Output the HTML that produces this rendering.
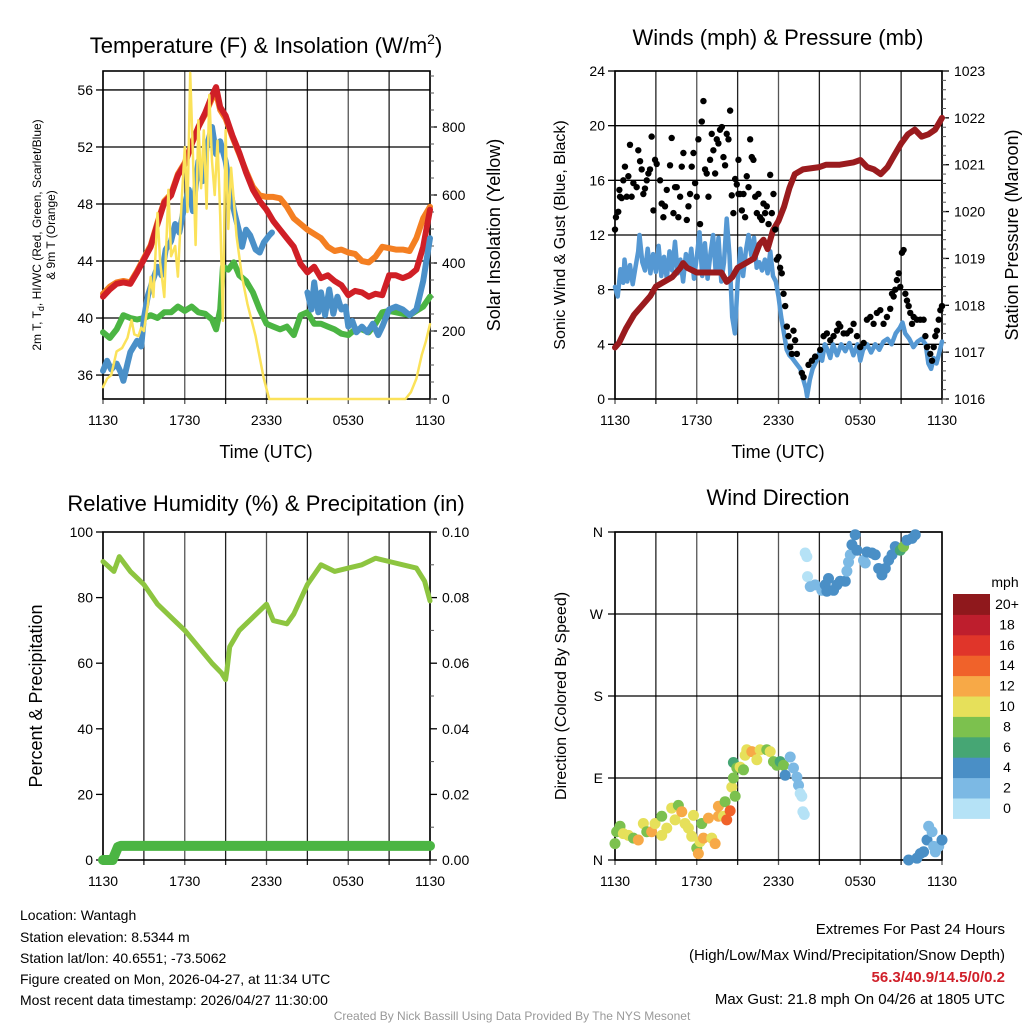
<!DOCTYPE html>
<html><head><meta charset="utf-8">
<style>
html,body{margin:0;padding:0;background:#fff;}
svg{display:block;font-family:"Liberation Sans",Arial,sans-serif;}
</style></head>
<body>
<svg id="fig" width="1024" height="1024" viewBox="0 0 1024 1024" xmlns="http://www.w3.org/2000/svg">
<rect width="1024" height="1024" fill="#fff"/>
<g id="texts" fill="#000">
<text x="266" y="53" font-size="22" text-anchor="middle">Temperature (F) &amp; Insolation (W/m<tspan dy="-9" font-size="14">2</tspan><tspan dy="9">)</tspan></text>
<text x="778" y="45" font-size="22" text-anchor="middle">Winds (mph) &amp; Pressure (mb)</text>
<text x="266" y="511" font-size="22" text-anchor="middle">Relative Humidity (%) &amp; Precipitation (in)</text>
<text x="778" y="505" font-size="22" text-anchor="middle">Wind Direction</text>
<g font-size="18" text-anchor="middle">
<text x="266" y="458">Time (UTC)</text>
<text x="778" y="458">Time (UTC)</text>
<text transform="translate(500,235) rotate(-90)">Solar Insolation (Yellow)</text>
<text transform="translate(1018,235) rotate(-90)">Station Pressure (Maroon)</text>
<text transform="translate(42,696) rotate(-90)">Percent &amp; Precipitation</text>
</g>
<text transform="translate(565,235) rotate(-90)" font-size="16" text-anchor="middle">Sonic Wind &amp; Gust (Blue, Black)</text>
<text transform="translate(566,696) rotate(-90)" font-size="16" text-anchor="middle">Direction (Colored By Speed)</text>
<g font-size="12" text-anchor="middle">
<text transform="translate(41,235) rotate(-90)">2m T, T<tspan font-size="9" dy="3">d</tspan><tspan dy="-3">, HI/WC (Red, Green, Scarlet/Blue)</tspan></text>
<text transform="translate(55,235) rotate(-90)">&amp; 9m T (Orange)</text>
</g>
<g font-size="14">
<text x="20" y="920">Location: Wantagh</text>
<text x="20" y="942">Station elevation: 8.5344 m</text>
<text x="20" y="963">Station lat/lon: 40.6551; -73.5062</text>
<text x="20" y="984">Figure created on Mon, 2026-04-27, at 11:34 UTC</text>
<text x="20" y="1005">Most recent data timestamp: 2026/04/27 11:30:00</text>
</g>
<g font-size="15" text-anchor="end">
<text x="1005" y="934">Extremes For Past 24 Hours</text>
<text x="1005" y="960">(High/Low/Max Wind/Precipitation/Snow Depth)</text>
<text x="1005" y="982" fill="#d0202a" font-weight="bold">56.3/40.9/14.5/0/0.2</text>
<text x="1005" y="1004">Max Gust: 21.8 mph On 04/26 at 1805 UTC</text>
</g>
<text x="512" y="1020" font-size="12" fill="#999" text-anchor="middle">Created By Nick Bassill Using Data Provided By The NYS Mesonet</text>
<text x="1005" y="587" font-size="14" text-anchor="middle">mph</text>
</g>
</svg>
<script>
// ---------- DATA ----------
const xTickLabels = ["1130","1730","2330","0530","1130"];
const tempTicks = [36,40,44,48,52,56];
const solarTicks = [0,200,400,600,800];
const windTicks = [0,4,8,12,16,20,24];
const pressTicks = [1016,1017,1018,1019,1020,1021,1022,1023];
const rhTicks = [0,20,40,60,80,100];
const precipTicks = [0,0.02,0.04,0.06,0.08,0.10];
const dirTickLabels = ["N","E","S","W","N"];
const dirTickValues = [0,90,180,270,360];

const redH = [0,.5,1,1.5,2,2.5,3,3.5,4,4.5,5,5.5,6,6.5,7,7.5,8,8.3,8.6,9,9.5,10,10.5,11,11.5,12,12.5,13,13.5,14,14.5,15,15.5,16,16.5,17,17.5,18,18.5,19,19.5,20,20.5,21,21.5,22,22.5,23,23.5,24];
const redT = [41.5,42.0,42.4,42.5,42.4,43.2,44.1,45.0,46.6,48.1,48.6,50.0,50.8,52.2,53.4,54.4,55.6,56.2,54.8,54.2,52.8,51.6,50.2,49.0,48.2,47.6,46.8,46.2,45.6,45.0,43.8,43.2,43.6,42.8,43.0,42.6,42.3,41.6,41.9,41.8,41.5,41.7,41.6,43.0,43.0,42.8,43.0,43.4,45.0,47.6];
const orangeH = [0,.5,1,1.5,2,2.5,3,3.5,4,4.5,5,5.5,6,6.5,7,7.5,8,8.3,8.6,9,9.5,10,10.5,11,11.5,12,12.5,13,13.5,14,14.5,15,15.5,16,16.5,17,17.5,18,18.5,19,19.5,20,20.5,21,21.5,22,22.5,23,23.5,24];
const orangeT = [41.7,42.2,42.5,42.6,42.5,43.3,44.2,45.1,46.7,48.2,48.7,50.1,50.9,52.2,53.4,54.3,55.4,55.8,54.6,54.0,52.7,51.5,50.3,49.2,48.6,48.5,48.5,48.4,47.8,47.0,46.6,46.2,45.9,45.6,45.0,44.7,44.8,44.6,44.5,44.0,43.9,44.3,45.0,44.9,44.8,44.8,44.7,45.6,47.0,47.8];
const blueH = [0,.3,.6,1,1.3,1.5,1.8,2,2.5,2.8,3,3.3,3.6,4,4.3,4.6,5,5.3,5.6,6,6.3,6.6,7,7.3,7.6,8,8.3,8.6,9,9.3,9.6,10,10.2,10.5,10.8,11.2,11.5,11.8,12.2,12.4,null,15,15.3,15.5,15.8,16,16.3,16.6,16.9,17.2,17.5,17.8,18,18.3,18.6,19,19.4,19.8,20.2,20.5,21,21.5,22,22.5,23,23.5,24];
const blueT = [36.3,37.0,36.4,36.8,36.2,35.6,36.8,37.6,38.4,38.0,40.0,41.6,42.5,43.6,43.0,44.8,45.4,46.6,46.0,48.0,49.0,47.5,51.0,49.6,52.0,53.4,51.5,52.4,51.0,49.2,47.6,46.0,45.0,46.2,45.8,44.8,44.6,45.3,45.8,46.0,null,41.8,40.6,42.5,40.4,41.8,40.2,42.0,40.3,41.5,40.6,40.8,39.4,39.8,39.0,39.4,39.0,39.6,38.8,39.4,40.6,40.8,40.6,40.2,40.6,42.6,45.6];
const greenH = [0,.5,1,1.5,2,2.5,3,3.5,4,4.5,5,5.5,6,6.5,7,7.5,8,8.3,8.6,8.8,9.2,9.6,10,10.5,11,11.5,12,12.5,13,13.5,14,14.5,15,15.5,16,16.5,17,17.5,18,18.5,19,19.5,20,20.5,21,21.5,22,22.5,23,23.5,24];
const greenT = [39.0,38.6,39.2,40.2,40.0,39.9,40.0,40.2,40.0,40.4,40.4,40.8,40.5,40.8,40.4,40.3,39.9,39.2,40.6,43.6,43.4,43.9,43.0,42.6,41.8,40.6,39.6,39.4,39.2,39.4,38.8,40.2,40.4,39.6,39.6,39.4,39.2,38.9,38.8,39.2,39.2,39.0,39.6,40.4,40.5,40.4,40.3,40.2,40.5,40.8,41.5];
const solarH = [0,.3,.6,1,1.4,1.8,2.1,2.3,2.6,2.8,3,3.3,3.5,3.7,4,4.2,4.5,4.8,5,5.3,5.5,5.8,6,6.2,6.4,6.6,6.8,7,7.2,7.4,7.6,7.8,8,8.2,8.4,8.6,8.8,9,9.2,9.4,9.6,9.8,10.2,10.6,11.2,11.8,12.2,22.2,22.6,23,23.4,23.7,24];
const solarW = [35,60,70,140,150,180,232,190,185,210,200,280,359,300,547,400,300,615,420,450,360,600,741,550,959,720,453,820,620,790,560,894,700,600,760,540,230,791,500,680,585,480,359,280,185,60,0,0,20,60,130,170,220];

const windH = [0,.2,.4,.6,.7,.9,1.1,1.3,1.5,1.7,1.8,2,2.2,2.4,2.6,2.8,3,3.2,3.4,3.6,3.8,4,4.2,4.4,4.6,4.8,5,5.2,5.4,5.6,5.8,6,6.2,6.4,6.6,6.8,7,7.2,7.4,7.6,7.8,8,8.2,8.4,8.6,8.8,9,9.2,9.4,9.6,9.8,10,10.2,10.4,10.6,10.8,11,11.2,11.4,11.6,11.8,12,12.2,12.4,12.6,12.8,13,13.3,13.6,13.8,14,14.1,14.3,14.5,14.8,15,15.2,15.4,15.6,15.8,16,16.3,16.6,16.9,17.2,17.5,17.8,18,18.2,18.5,18.8,19.1,19.4,19.7,20,20.3,20.6,20.9,21.1,21.3,21.6,21.9,22.2,22.5,22.8,23,23.2,23.4,23.6,23.8,24];
const windV = [8.2,7.5,9.5,8.5,10.2,8.6,9.8,8.4,9.6,10.8,12,10,9.4,11,9.2,10.6,9.3,11.2,9.0,10.4,8.8,10.8,9.4,11.5,9.2,10.2,8.6,10.6,9.6,11.0,8.8,10.4,12.2,9.0,11.4,8.8,10.6,12.0,9.2,11.8,8.6,10.0,13.2,10.5,6.0,4.8,8.5,11.0,9.0,10.8,12.0,10.5,11.8,9.6,10.0,9.4,10.2,9.2,10.8,9.0,8.6,7.5,6.0,4.8,3.6,3.2,3.0,2.6,2.2,1.5,0.8,0.2,1.4,2.2,2.8,3.4,2.8,4.0,3.6,3.0,4.0,3.2,4.0,3.5,4.1,3.2,4.0,2.8,3.6,4.0,3.4,4.0,3.6,4.2,4.4,4.0,4.8,5.2,5.6,4.8,4.4,3.8,4.2,4.4,4.0,2.6,2.2,3.0,2.6,3.4,4.2];
const pressH = [0,.3,.8,1.4,2,2.6,3,3.6,4.2,4.8,5,5.3,6,7,7.8,8.2,8.6,9,9.6,10.2,10.6,10.9,11.2,11.6,12,12.4,12.8,13.2,13.8,15,15.5,16.5,17.5,18,18.5,19,19.5,20,20.5,21,21.5,22,22.5,23,23.5,24];
const pressV = [1017.1,1017.2,1017.5,1017.8,1018.0,1018.2,1018.4,1018.5,1018.6,1018.8,1018.9,1018.8,1018.7,1018.7,1018.7,1018.5,1018.6,1018.8,1018.9,1019.0,1019.3,1019.4,1019.2,1019.6,1019.8,1020.1,1020.5,1020.8,1020.9,1020.95,1021.0,1021.0,1021.05,1021.1,1020.95,1020.9,1020.8,1020.95,1021.2,1021.45,1021.65,1021.75,1021.6,1021.65,1021.75,1022.0];
const gustH = [0,0.07,0.24,0.32,0.37,0.49,0.61,0.73,0.86,0.98,1.1,1.22,1.35,1.59,1.71,1.84,1.96,2.08,2.2,2.33,2.45,2.57,2.69,2.82,2.94,3.06,3.31,3.43,3.55,3.67,3.8,4.04,4.16,4.29,4.41,4.53,4.65,4.78,4.9,5.02,5.27,5.39,5.51,5.63,5.76,5.88,6,6.12,6.24,6.37,6.49,6.61,6.73,6.86,6.98,7.1,7.22,7.35,7.47,7.59,7.71,7.84,7.96,8.08,8.2,8.33,8.45,8.57,8.69,8.82,8.94,9.06,9.06,9.18,9.31,9.43,9.55,9.67,9.8,9.92,10.04,10.16,10.29,10.41,10.53,10.65,10.78,10.9,11.02,11.14,11.27,11.39,11.51,11.63,11.76,11.88,12,12.12,12.24,12.37,12.49,12.61,12.73,12.86,12.98,13.1,13.22,13.35,13.71,13.84,14.2,14.45,14.69,15.06,15.31,15.55,15.8,16.04,16.29,16.41,16.53,16.78,17.02,17.27,17.51,17.76,18,18.25,18.49,18.74,18.98,19.22,19.47,19.71,19.96,20.2,20.33,20.45,20.57,20.69,20.82,20.94,21.06,21.18,21.31,21.43,21.55,21.67,21.8,21.92,22.16,22.41,22.65,22.78,22.9,23.14,23.27,23.39,23.51,23.63,23.76,23.88,24];
const gustV = [12.4,13.3,13.7,15.3,14.8,14.7,16.0,17.0,14.8,16.3,18.6,14.8,15.8,15.5,18.2,17.4,16.8,15.0,15.4,16.0,16.5,16.8,19.2,13.8,17.5,17.2,16.0,14.3,13.3,14.1,15.3,17.1,19.1,13.6,15.5,15.5,13.3,14.8,17.0,18.0,13.1,14.1,15.0,17.0,18.0,15.8,14.8,19.0,12.8,20.3,21.8,16.8,16.5,14.8,17.5,19.4,18.2,16.5,19.0,18.7,19.7,19.9,17.7,17.1,19.4,19.0,21.1,14.9,13.6,16.1,15.7,17.5,15.0,15.0,13.8,15.0,13.3,16.3,15.5,19.0,17.7,17.5,14.8,13.6,15.0,13.3,13.1,14.3,13.6,14.1,12.8,16.4,13.6,15.0,12.4,10.2,10.4,9.6,9.2,7.7,6.8,5.3,4.6,3.8,3.3,5.0,4.3,3.3,1.9,1.6,2.5,2.8,3.1,3.6,4.6,4.8,4.3,4.6,5.0,5.5,5.3,4.8,4.8,5.0,5.5,4.6,3.8,4.1,5.8,6.0,5.5,6.3,6.5,5.5,6.0,6.6,7.7,7.5,8.0,8.7,9.2,8.2,10.7,10.9,7.7,7.2,6.8,6.3,5.5,6.0,5.8,5.8,5.8,4.6,3.8,3.3,2.8,3.8,4.6,5.0,5.8,6.5,6.8];

const rhH = [0,.8,1.2,2,3,4,5,6,7,8,8.7,9,9.1,9.3,10,11,12,12.5,13.5,14,15,16,17,18,19,20,21,22,23,23.6,24];
const rhV = [91,88,92.5,88,84,78,74,70,65,60,57,55,58,65,70,74,78,73,72,75,84,90,88,89,90,92,91,90,89,85,79];
const precipH = [0,0.7,0.9,1.1,1.3,24];
const precipV = [0,0,0.002,0.004,0.0043,0.0043];

const dirH = [0,0.12,0.37,0.61,0.98,1.35,1.71,2.08,2.33,2.69,2.94,3.43,3.43,3.8,4.16,4.41,4.65,4.9,5.14,5.39,5.63,5.76,6,6.12,6.24,6.37,6.49,6.86,7.1,7.35,7.59,7.59,7.96,8.08,8.2,8.45,8.57,8.69,8.82,8.69,8.94,9.18,9.43,9.55,9.67,10.04,10.41,10.65,11.14,11.39,11.63,11.88,12.12,12.37,12.49,12.86,13.1,13.35,13.47,13.59,13.71,13.79,13.89,13.96,14.08,14.13,14.33,14.69,15.18,15.43,15.55,15.67,16.04,16.29,16.53,16.9,17.02,17.14,17.27,17.39,17.63,17.76,18.24,18.37,18.49,18.86,19.1,19.35,19.59,19.84,20.08,20.33,20.57,20.94,21.18,21.43,21.8,22.04,21.55,22.16,22.41,22.65,22.9,23.02,23.27,23.39,23.51,23.76,24];
const dirD = [18,31,37,29,27,24,22,40,31,31,40,27,48,35,57,44,60,53,40,35,26,49,13,7,20,40,24,46,24,18,48,59,48,64,44,54,80,90,70,107,101,102,99,115,121,119,110,121,121,119,108,104,108,104,93,113,101,91,82,73,70,53,50,337,333,311,300,302,296,302,295,309,296,302,306,306,317,327,335,346,357,340,329,326,338,337,335,320,313,320,329,335,344,340,344,351,353,357,0,2,7,9,22,37,31,15,9,15,22];
const dirS = [8,8,8,10,10,8,12,10,8,12,10,10,8,10,10,10,8,12,10,10,10,10,8,12,10,8,12,12,10,12,12,12,10,8,14,14,10,8,8,6,8,10,8,10,10,12,10,10,8,10,8,8,6,8,4,2,2,2,2,0,0,0,0,0,0,0,2,2,2,4,4,4,4,4,4,4,2,2,2,4,4,4,2,2,4,4,4,4,4,4,4,4,4,6,8,4,4,4,4,4,4,4,4,2,2,2,2,2,4];
const cbLabels = ["0","2","4","6","8","10","12","14","16","18","20+"];
const cbColors = ["#b5e2f6","#7cb9e4","#4a8fc6","#46a674","#7cc14e","#e6e05a","#f7a947","#f0622a","#e0352a","#be1e2d","#8f181c"];

// ---------- DRAWING ----------
const NS = "http://www.w3.org/2000/svg";
const svg = document.getElementById("fig");
function el(tag, attrs, parent) {
  const e = document.createElementNS(NS, tag);
  for (const k in attrs) e.setAttribute(k, attrs[k]);
  (parent || svg).appendChild(e);
  return e;
}
const P1 = {x0:103,x1:430,y0:71,y1:399};
const P2 = {x0:615,x1:942,y0:71,y1:399};
const P3 = {x0:103,x1:430,y0:532,y1:860};
const P4 = {x0:615,x1:942,y0:532,y1:860};
function xs(p, h) { return p.x0 + h / 24 * (p.x1 - p.x0); }
function lin(p, lo, hi) { return v => p.y1 - (v - lo) / (hi - lo) * (p.y1 - p.y0); }
const yTemp = lin(P1, 34.32, 57.33);
const ySolar = lin(P1, 0, 964.7);
const yWind = lin(P2, 0, 24);
const yPress = lin(P2, 1016, 1023);
const yRH = lin(P3, 0, 100);
const yPrecip = lin(P3, 0, 0.1);
const yDir = lin(P4, 0, 360);

function frame(p, name) {
  const g = el("g", {});
  
  
  for (let i = 0; i <= 8; i++) {
    const x = p.x0 + i * (p.x1 - p.x0) / 8;
    const l = el("line", {x1:x, x2:x, y1:p.y0, y2:p.y1 + 5, stroke: (i % 2 ? "#222" : "#555"), "stroke-width": 1.3}, g);
    
    
  }
  for (let i = 0; i < xTickLabels.length; i++) {
    const t = el("text", {x: p.x0 + i * (p.x1 - p.x0) / 4, y: p.y1 + 26, "font-size": 14, "text-anchor": "middle"}, g);
    t.textContent = xTickLabels[i];
    
    
  }
  const r = el("rect", {x:p.x0, y:p.y0, width:p.x1-p.x0, height:p.y1-p.y0, fill:"none", stroke:"#000", "stroke-width":1.6}, g);
  
  
  return g;
}
function leftAxis(p, ticks, yf, fmt, name, grid) {
  const g = el("g", {});
  
  
  ticks.forEach(v => {
    const y = yf(v);
    if (grid) el("line", {x1:p.x0, x2:p.x1, y1:y, y2:y, stroke:"#000", "stroke-width":1.3}, g);
    el("line", {x1:p.x0 - 7, x2:p.x0, y1:y, y2:y, stroke:"#000", "stroke-width":1.3}, g);
    const t = el("text", {x:p.x0 - 10, y:y + 5, "font-size":14, "text-anchor":"end"}, g);
    t.textContent = fmt(v);
    
  });
  return g;
}
function rightAxis(p, ticks, yf, fmt, name, minor) {
  const g = el("g", {});
  
  
  ticks.forEach(v => {
    const y = yf(v);
    el("line", {x1:p.x1, x2:p.x1 + 7, y1:y, y2:y, stroke:"#000", "stroke-width":1.3}, g);
    const t = el("text", {x:p.x1 + 12, y:y + 5, "font-size":14}, g);
    t.textContent = fmt(v);
    
  });
  minor.forEach(v => {
    const y = yf(v);
    el("line", {x1:p.x1, x2:p.x1 + 4, y1:y, y2:y, stroke:"#555", "stroke-width":1}, g);
  });
  return g;
}
function line(p, hs, vs, yf, color, w, name) {
  let d = "", pen = false;
  for (let i = 0; i < hs.length; i++) {
    if (hs[i] === null || vs[i] === null) { pen = false; continue; }
    d += (pen ? "L" : "M") + xs(p, hs[i]).toFixed(1) + "," + yf(vs[i]).toFixed(1);
    pen = true;
  }
  const e = el("path", {d:d, fill:"none", stroke:color, "stroke-width":w, "stroke-linejoin":"round", "stroke-linecap":"round"});
  
  
  return e;
}

// Panel 1
frame(P1, "temperature-panel");
leftAxis(P1, tempTicks, yTemp, v => v, "temperature-y-axis", true);
const m1 = []; for (let v = 0; v <= 950; v += 50) m1.push(v);
rightAxis(P1, solarTicks, ySolar, v => v, "solar-y-axis", m1);
line(P1, orangeH, orangeT, yTemp, "#f47f22", 6, "series-9m-temp-orange");
line(P1, redH, redT, yTemp, "#d01f26", 6, "series-2m-temp-red");
line(P1, greenH, greenT, yTemp, "#4bb543", 6, "series-dewpoint-green");
line(P1, blueH, blueT, yTemp, "#4a90c8", 6, "series-windchill-blue");
line(P1, solarH, solarW, ySolar, "#fbe25a", 2.5, "series-solar-yellow");

// Panel 2
frame(P2, "wind-panel");
leftAxis(P2, windTicks, yWind, v => v, "wind-y-axis", true);
const m2 = []; for (let v = 1016; v <= 1023; v += 0.2) m2.push(v);
rightAxis(P2, pressTicks, yPress, v => v, "pressure-y-axis", m2);
line(P2, windH, windV, yWind, "#5598d3", 4.5, "series-wind-speed-blue");
line(P2, pressH, pressV, yPress, "#9a1b1e", 6, "series-pressure-maroon");
const gg = el("g", {fill:"#000"});


for (let i = 0; i < gustH.length; i++) {
  const c = el("circle", {cx:xs(P2, gustH[i]), cy:yWind(gustV[i]), r:3.2}, gg);
  
}

// Panel 3
frame(P3, "humidity-panel");
leftAxis(P3, rhTicks, yRH, v => v, "humidity-y-axis", false);
rightAxis(P3, precipTicks, yPrecip, v => v.toFixed(2), "precip-y-axis", [0.01,0.03,0.05,0.07,0.09]);
line(P3, rhH, rhV, yRH, "#8dc540", 5, "series-humidity");
line(P3, precipH, precipV, yPrecip, "#4bb543", 10, "series-precipitation");

// Panel 4
frame(P4, "direction-panel");
const gd = el("g", {});


dirTickValues.forEach((v, i) => {
  const y = yDir(v);
  el("line", {x1:P4.x0 - 7, x2:P4.x1, y1:y, y2:y, stroke:"#000", "stroke-width":1.3}, gd);
  const t = el("text", {x:P4.x0 - 12, y:y + 5, "font-size":14, "text-anchor":"end"}, gd);
  t.textContent = dirTickLabels[i];
});
const gp = el("g", {});


for (let i = 0; i < dirH.length; i++) {
  const idx = Math.min(10, Math.max(0, Math.round(dirS[i] / 2)));
  const c = el("circle", {cx:xs(P4, dirH[i]), cy:yDir(dirD[i]), r:5.5, fill:cbColors[idx]}, gp);
  
}
// colorbar
const gc = el("g", {});


const cbTop = 594, cbH = 20.4;
for (let i = 0; i < cbColors.length; i++) {
  const y = cbTop + (cbColors.length - 1 - i) * cbH;
  el("rect", {x:953, y:y, width:37, height:cbH + 0.5, fill:cbColors[i]}, gc);
  const t = el("text", {x:1007, y:y + 15, "font-size":14, "text-anchor":"middle"}, gc);
  t.textContent = cbLabels[i];
  
}
</script>
</body></html>
